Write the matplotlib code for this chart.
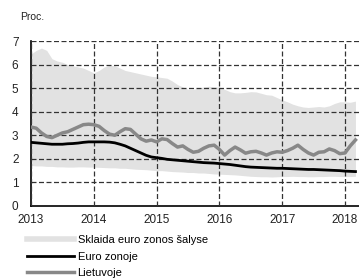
import numpy as np
import matplotlib.pyplot as plt
from matplotlib.lines import Line2D

plt.rcParams['font.family'] = ['Liberation Sans Narrow', 'Liberation Sans', 'DejaVu Sans']

# monthly observations, 2013-01 .. 2018-03
start_year = 2013
years = [2013, 2014, 2015, 2016, 2017, 2018]

range_high = [6.45, 6.60, 6.70, 6.60, 6.25, 6.15, 6.10, 6.00, 5.95, 5.90, 5.85, 5.75,
              5.65, 5.75, 5.90, 5.97, 5.95, 5.85, 5.75, 5.70, 5.65, 5.60, 5.55, 5.50,
              5.48, 5.45, 5.42, 5.30, 5.15, 5.05, 4.95, 4.95, 5.00, 5.05, 5.08, 5.05,
              5.05, 4.95, 4.85, 4.80, 4.80, 4.82, 4.85, 4.84, 4.78, 4.72, 4.70, 4.60,
              4.50, 4.42, 4.32, 4.25, 4.20, 4.18, 4.20, 4.22, 4.20, 4.25, 4.35, 4.42,
              4.42, 4.40, 4.45]
range_low = [1.72, 1.70, 1.70, 1.68, 1.68, 1.66, 1.66, 1.65, 1.65, 1.66, 1.66, 1.65,
             1.65, 1.64, 1.63, 1.62, 1.62, 1.60, 1.60, 1.58, 1.56, 1.55, 1.54, 1.52,
             1.50, 1.50, 1.48, 1.46, 1.45, 1.44, 1.42, 1.42, 1.40, 1.40, 1.38, 1.36,
             1.35, 1.34, 1.33, 1.32, 1.30, 1.28, 1.26, 1.25, 1.24, 1.24, 1.23, 1.24,
             1.25, 1.25, 1.26, 1.25, 1.25, 1.24, 1.24, 1.25, 1.25, 1.26, 1.26, 1.25,
             1.25, 1.25, 1.26]
euro_area = [2.70, 2.68, 2.66, 2.64, 2.62, 2.62, 2.62, 2.64, 2.65, 2.67, 2.70, 2.72,
             2.72, 2.72, 2.72, 2.71, 2.68, 2.62, 2.55, 2.45, 2.35, 2.25, 2.15, 2.08,
             2.05, 2.02, 1.98, 1.96, 1.94, 1.92, 1.90, 1.88, 1.86, 1.84, 1.83, 1.82,
             1.80, 1.78, 1.76, 1.73, 1.70, 1.67, 1.65, 1.64, 1.63, 1.62, 1.61, 1.60,
             1.60, 1.59, 1.58, 1.57, 1.56, 1.55, 1.55, 1.54, 1.53, 1.52, 1.51, 1.50,
             1.48, 1.47, 1.46]
lithuania = [3.35, 3.30, 3.10, 2.95, 2.90, 3.00, 3.10, 3.15, 3.25, 3.35, 3.45, 3.47,
             3.45, 3.38, 3.20, 3.05, 3.00, 3.15, 3.28, 3.25, 3.05, 2.85, 2.75, 2.80,
             2.72, 2.85, 2.82, 2.65, 2.50, 2.55, 2.40, 2.28, 2.32, 2.45, 2.55, 2.58,
             2.40, 2.16, 2.35, 2.50, 2.38, 2.24, 2.30, 2.32, 2.25, 2.16, 2.25, 2.30,
             2.28, 2.35, 2.45, 2.58, 2.40, 2.25, 2.16, 2.28, 2.30, 2.42, 2.35, 2.22,
             2.25, 2.55, 2.80]

labels = ['Sklaida euro zonos šalyse', 'Euro zonoje', 'Lietuvoje']

t = start_year + np.arange(len(euro_area)) / 12

fig = plt.figure(figsize=(3.59, 2.79), dpi=100)
ax = fig.add_axes([31 / 359, 1 - 206 / 279, 1 - 31 / 359, (206 - 41) / 279])

band_color = '#e2e2e2'
lt_color = '#888888'

ax.fill_between(t, range_low, range_high, color=band_color, lw=0, zorder=1)
ax.plot(t, euro_area, color='black', lw=2.0, zorder=3)
ax.plot(t, lithuania, color=lt_color, lw=2.5, zorder=3)

ax.set_xlim(2013, 2013 + (359 - 31) / 62.8)
ax.set_ylim(0, 7)
ax.set_xticks(years)
ax.set_yticks(range(0, 8))
ax.tick_params(length=0, labelsize=8.5, pad=6, colors='#222222')
ax.tick_params(axis='y', pad=9)

ax.grid(True, color='#333333', lw=0.9, linestyle=(0, (4, 2)), zorder=2)
ax.set_axisbelow(False)
for s in ['top', 'right']:
    ax.spines[s].set_visible(False)
ax.spines['left'].set_linewidth(1.2)
ax.spines['bottom'].set_linewidth(1.2)

fig.text(20 / 359, 1 - 17 / 279, 'Proc.', fontsize=7.5, va='center', ha='left', color='#222222')

handles = [Line2D([], [], color=band_color, lw=4),
           Line2D([], [], color='black', lw=2.0),
           Line2D([], [], color=lt_color, lw=2.5)]
fig.legend(handles, labels, loc='upper left', bbox_to_anchor=(27 / 359, 1 - 235 / 279),
           frameon=False, fontsize=8, handlelength=4.2, handletextpad=0.35,
           labelspacing=0.6, borderpad=0, borderaxespad=0)

fig.savefig('out.png', dpi=100)
